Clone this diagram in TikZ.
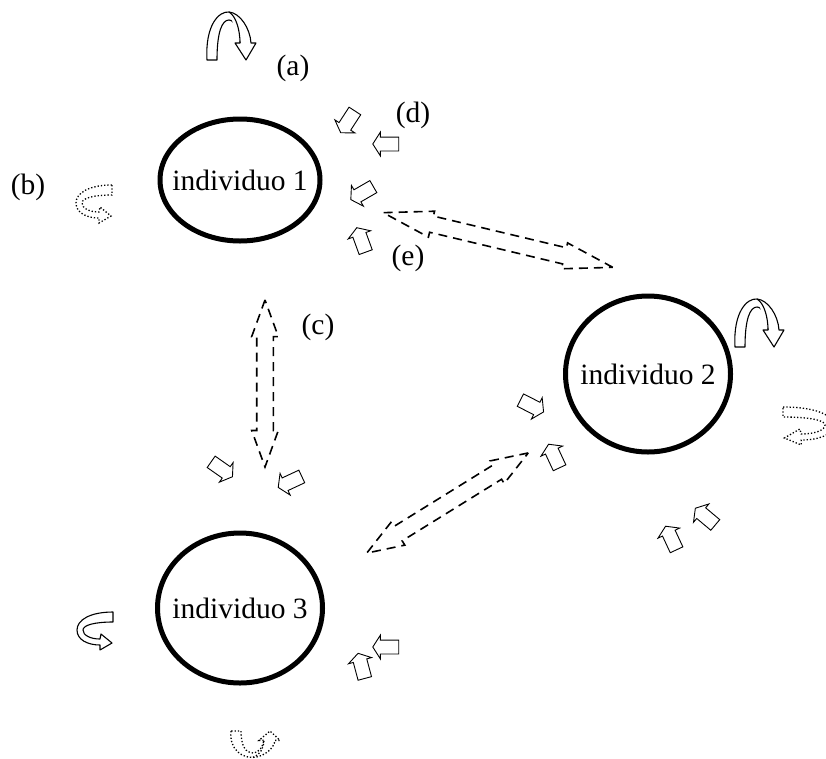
\documentclass[tikz,border=0pt]{standalone}
\usepackage{fontspec}
\setmainfont{Liberation Serif}
\usetikzlibrary{shapes.geometric,shapes.arrows}
\tikzset{
  pics/uturn/.style={code={
    \draw[#1] (0,0) .. controls (-2,-35) and (12,-49) .. (22,-48)
      .. controls (33,-47) and (43,-32) .. (44,-17) -- (49,-17) -- (39,0)
      -- (28,-17) -- (33,-17) .. controls (32,-28) and (28,-40) .. (22,-40)
      .. controls (15,-40) and (10,-28) .. (10,0) -- cycle;
    \draw[#1] (22,-48) .. controls (29,-44) and (33,-30) .. (33,-17);
  }},
  pics/chook/.style={code={
    \draw[#1] (0,0) .. controls (-23,0) and (-36,8) .. (-36,18)
      .. controls (-36,28) and (-25,33) .. (-13,33) -- (-13,38) -- (-1,31)
      -- (-12,22) -- (-13,27) .. controls (-23,27) and (-30,23) .. (-30,18)
      .. controls (-30,13) and (-18,10) .. (0,10) -- cycle;
  }}
}
\begin{document}
\begin{tikzpicture}
[x=1pt,y=-1pt,
  persondecorate/.style={shape=ellipse,draw,line width=5pt,inner sep=0pt,
    label={[font=\fontsize{29.5}{35}\selectfont]center:#1}},
  labeldecorate/.style={font=\fontsize{29.5}{35}\selectfont},
  smallarrow/.style={shape=single arrow,draw,fill=white,line width=0.9pt,
    inner xsep=0pt,inner ysep=6.5pt,minimum height=26pt,
    single arrow head extend=5pt,single arrow tip angle=115},
  dasharrow/.style={shape=double arrow,draw,line width=1.6pt,
    dash pattern=on 9pt off 6pt,inner xsep=0pt,inner ysep=7.5pt,
    double arrow head extend=5pt,double arrow tip angle=40},
  ribbon/.style={draw,fill=white,line width=1.1pt,line join=round},
  dotribbon/.style={draw,line width=1.3pt,dotted}]
\useasboundingbox (0,0) rectangle (826,758);
%% individuals
\node[persondecorate=individuo 1,minimum width=160pt,minimum height=122pt] (ind1) at (240,180) {};
\node[persondecorate=individuo 2,minimum width=165pt,minimum height=156pt] (ind2) at (648,374) {};
\node[persondecorate=individuo 3,minimum width=165pt,minimum height=150pt] (ind3) at (240,608) {};
%% labels
\foreach \name/\x/\y in {a/293/68, b/28/187, c/318/327, d/413/115, e/408/258}
{
  \node[labeldecorate] (lab\name) at (\x,\y) {(\name)};
}
%% interactions between individuals
\node[dasharrow,double arrow tip angle=30,minimum height=236pt,rotate=-13.4] (link12) at (498,240) {};
\node[dasharrow,minimum height=167pt,rotate=90] (link13) at (265,383.5) {};
\node[dasharrow,minimum height=190pt,rotate=31.8] (link23) at (447.5,503) {};
%% small incoming arrows
\foreach \name/\x/\y/\ang in {s1/349/120/237, s2/388/144/180, s3/364/192/210,
  s4/362/242/110, s5/220/468/-35, s6/292/481/205, s7/530/405/-27,
  s8/555/458/115, s9/672/540/115, s10/707/518/140, s11/388/647/180,
  s12/362/668/105}
{
  \node[smallarrow,rotate=\ang] (\name) at (\x,\y) {};
}
%% turning arrows
\pic at (207,60) {uturn=ribbon};
\pic at (735,347) {uturn=ribbon};
\pic at (113,612) {chook=ribbon};
\pic at (112,185) {chook=dotribbon};
\pic[xscale=-1.4] at (783,407) {chook=dotribbon};
\pic[yscale=-0.55] at (231,731) {uturn=dotribbon};
\end{tikzpicture}
\end{document}
